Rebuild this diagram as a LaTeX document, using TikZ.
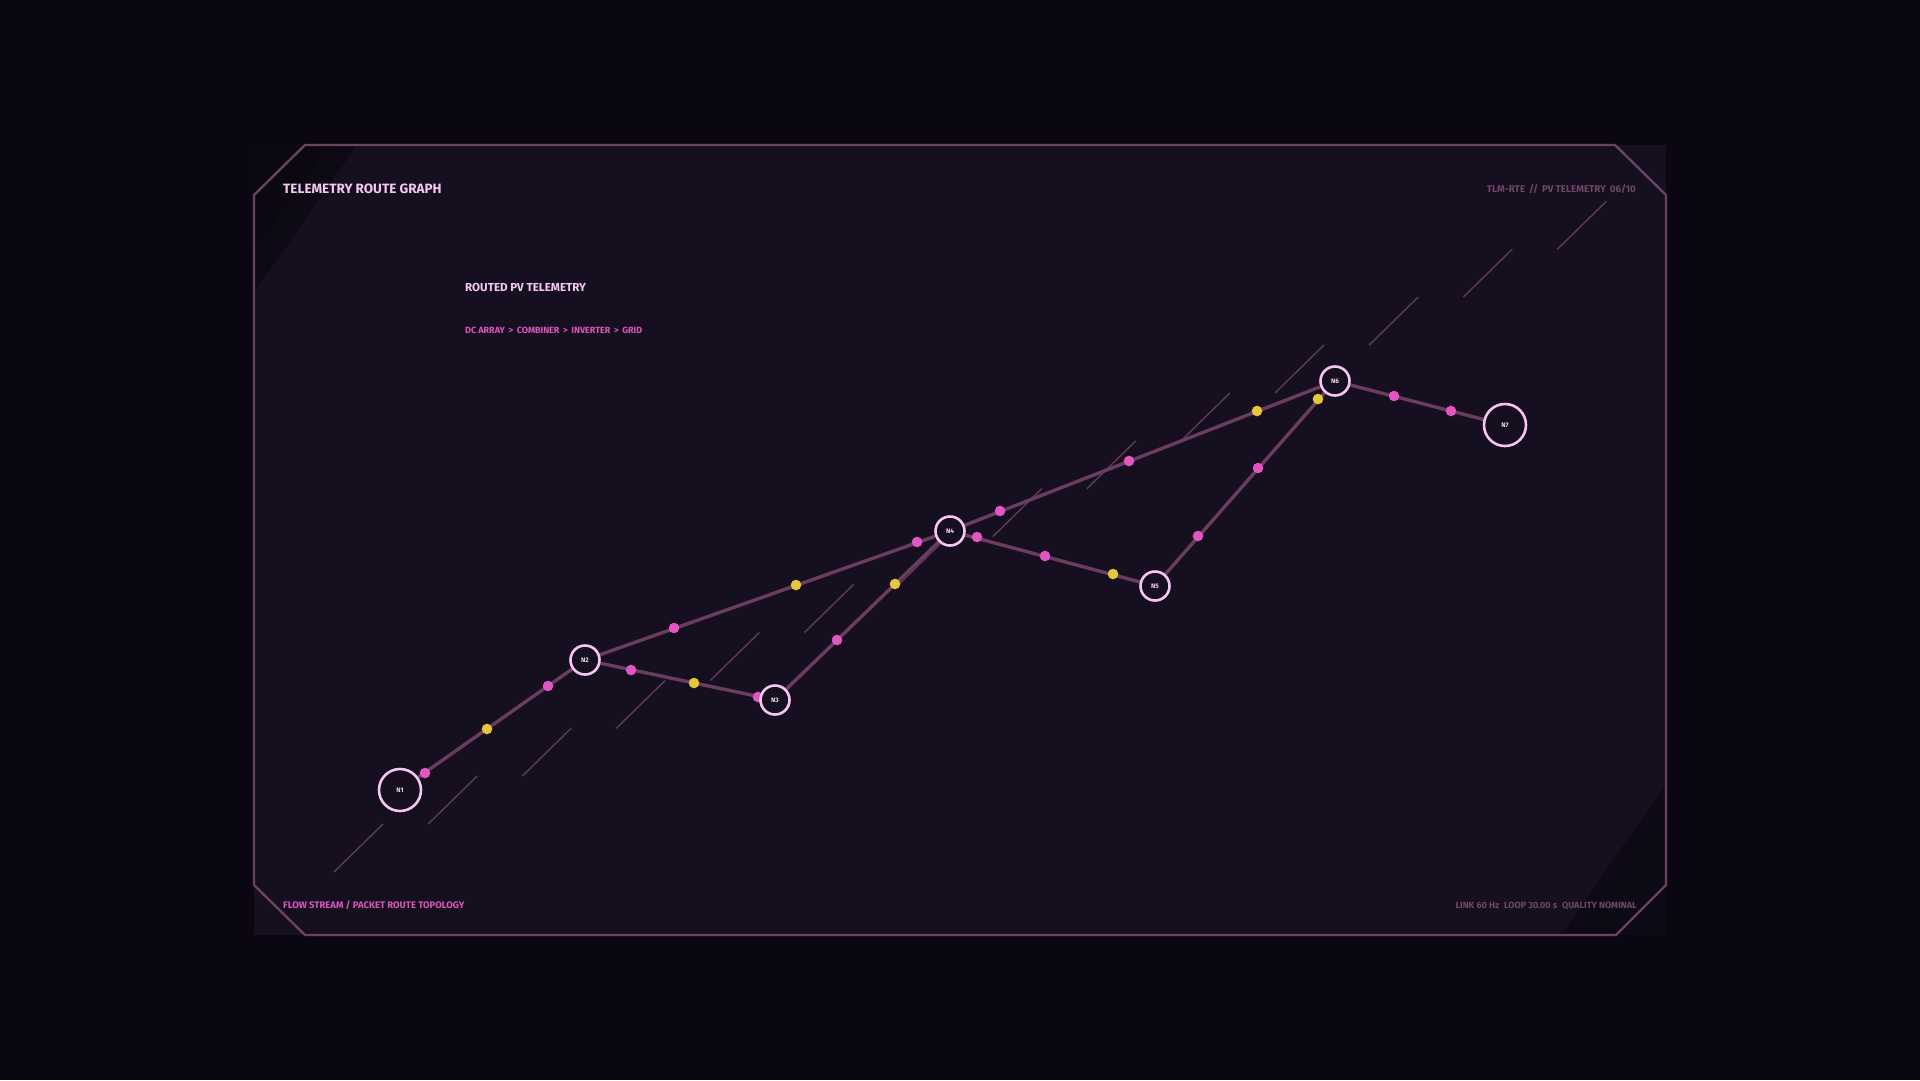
\documentclass[tikz,border=0pt]{standalone}
\usepackage{fontspec}
\setmainfont{Fira Sans}
\pgfdeclarelayer{bg}
\pgfdeclarelayer{edges}
\pgfdeclarelayer{dots}
\pgfsetlayers{bg,edges,dots,main}
\definecolor{outerbg}{HTML}{0A0712}
\definecolor{panel}{HTML}{150F1F}
\definecolor{frame}{HTML}{6B4262}
\definecolor{edgec}{HTML}{6A3D5F}
\definecolor{streak}{HTML}{5E3656}
\definecolor{pinkdot}{HTML}{E256C3}
\definecolor{yellowdot}{HTML}{E6C63C}
\definecolor{nodering}{HTML}{F6C6F2}
\definecolor{nodetext}{HTML}{F0D6EE}
\definecolor{titletext}{HTML}{F4C8F0}
\definecolor{pathtext}{HTML}{D957BD}
\definecolor{mutedtext}{HTML}{6F4767}
\tikzset{
  gnode/.style={circle,draw=nodering,line width=2.6pt,fill=panel,inner sep=0pt,
    minimum size=29pt,text=nodetext,font=\bfseries\fontsize{6.5}{7}\selectfont},
  bignode/.style={gnode,minimum size=42pt},
  link/.style={draw=edgec,line width=3.4pt},
  pdot/.style={circle,fill=pinkdot,inner sep=0pt,minimum size=10.6pt},
  ydot/.style={circle,fill=yellowdot,inner sep=0pt,minimum size=10.6pt},
  streakline/.style={draw=streak,line width=1.5pt},
  txt/.style={inner sep=0pt,font=\bfseries},
}
\begin{document}
\begin{tikzpicture}[x=1pt,y=-1pt]
\useasboundingbox (0,0) rectangle (1920,1080);
\begin{pgfonlayer}{bg}
\fill[outerbg] (0,0) rectangle (1920,1080);
\fill[panel] (254,145) rectangle (1666,935);
\fill[black,opacity=0.32] (254,145) -- (357,145) -- (254,293) -- cycle;
\fill[black,opacity=0.15] (254,145) -- (330,145) -- (254,250) -- cycle;
\fill[black,opacity=0.32] (1666,935) -- (1561,935) -- (1666,784) -- cycle;
\draw[frame,line width=2.4pt,line join=miter]
  (305,145) -- (1615,145) -- (1666,195) -- (1666,885) -- (1616,935)
  -- (305,935) -- (254,885) -- (254,195) -- cycle;
\foreach \i in {0,...,13}{
  \draw[streakline] ({334+94.1*\i},{872-47.9*\i}) -- ++(49,-48);
}
\end{pgfonlayer}

% nodes
\node[bignode] (N1) at (400,790) {N1};
\node[gnode] (N2) at (585,660) {N2};
\node[gnode] (N3) at (775,700) {N3};
\node[gnode] (N4) at (950,531) {N4};
\node[gnode] (N5) at (1155,586) {N5};
\node[gnode] (N6) at (1335,381) {N6};
\node[bignode] (N7) at (1505,425) {N7};

% edges
\begin{pgfonlayer}{edges}
\draw[link] (N1) -- (N2);
\draw[link] (N2) -- (N4);
\draw[link] (N2) -- (N3);
\draw[link] (N3) -- (N4);
\draw[link] (N4) -- (N6);
\draw[link] (N4) -- (N5);
\draw[link] (N5) -- (N6);
\draw[link] (N6) -- (N7);
\end{pgfonlayer}

% packets
\begin{pgfonlayer}{dots}
\node[pdot] (d1) at (425,773) {};
\node[ydot] (d2) at (487,729) {};
\node[pdot] (d3) at (548,686) {};
\node[pdot] (d4) at (674,628) {};
\node[ydot] (d5) at (796,585) {};
\node[pdot] (d6) at (917,542) {};
\node[pdot] (d7) at (631,670) {};
\node[ydot] (d8) at (694,683) {};
\node[pdot] (d9) at (758,697) {};
\node[pdot] (d10) at (837,640) {};
\node[ydot] (d11) at (895,584) {};
\node[pdot] (d12) at (1000,511) {};
\node[pdot] (d13) at (1129,461) {};
\node[ydot] (d14) at (1257,411) {};
\node[pdot] (d15) at (977,537) {};
\node[pdot] (d16) at (1045,556) {};
\node[ydot] (d17) at (1113,574) {};
\node[pdot] (d18) at (1198,536) {};
\node[pdot] (d19) at (1258,468) {};
\node[ydot] (d20) at (1318,399) {};
\node[pdot] (d21) at (1394,396) {};
\node[pdot] (d22) at (1451,411) {};
\end{pgfonlayer}

% texts
\node[txt,anchor=base west,text=titletext,font=\bfseries\fontsize{13.5}{15}\selectfont] (title) at (283,193) {TELEMETRY ROUTE GRAPH};
\node[txt,anchor=base west,text=titletext,font=\bfseries\fontsize{11.6}{13}\selectfont] (sub) at (465,291) {ROUTED PV TELEMETRY};
\node[txt,anchor=base west,text=pathtext,font=\bfseries\fontsize{9}{10}\selectfont] (path) at (465,333) {DC ARRAY \,>\, COMBINER \,>\, INVERTER \,>\, GRID};
\node[txt,anchor=base east,text=mutedtext,font=\bfseries\fontsize{9.8}{11}\selectfont] (tr) at (1636,192) {TLM-RTE \,//\, PV TELEMETRY \,06/10};
\node[txt,anchor=base west,text=pathtext,font=\bfseries\fontsize{9.5}{10}\selectfont] (bl) at (283,908) {FLOW STREAM / PACKET ROUTE TOPOLOGY};
\node[txt,anchor=base east,text=mutedtext,font=\bfseries\fontsize{9}{10}\selectfont] (br) at (1637,908) {LINK 60 Hz\hspace{5pt}LOOP 30.00 s\hspace{5pt}QUALITY NOMINAL};
\end{tikzpicture}
\end{document}
